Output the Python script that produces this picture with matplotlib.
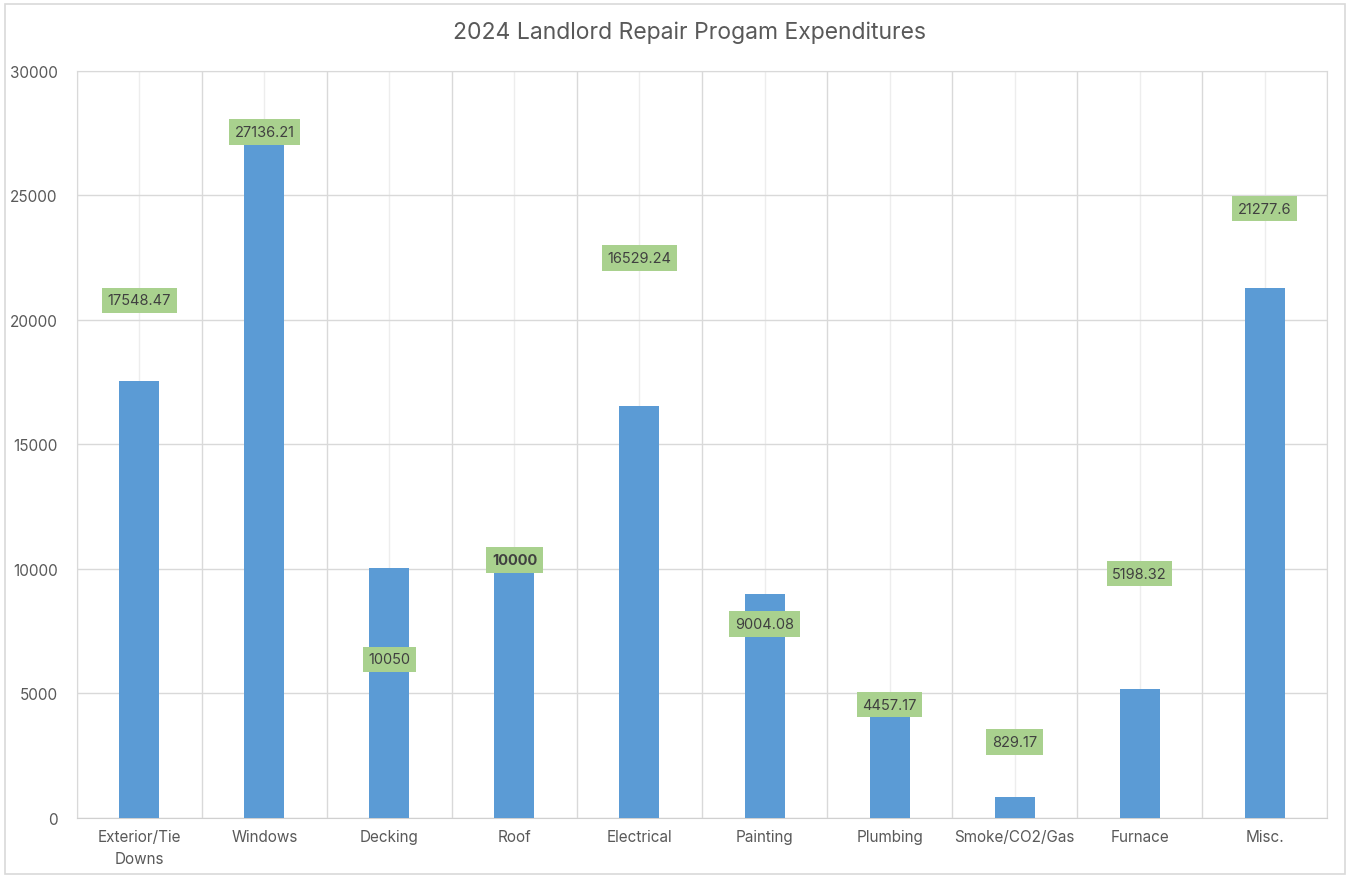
import matplotlib.pyplot as plt
import numpy as np

# Categorias e valores gastos em 2024
categorias = ["Exterior/Tie\nDowns", "Windows", "Decking", "Roof", "Electrical",
              "Painting", "Plumbing", "Smoke/CO2/Gas", "Furnace", "Misc."]
valores = [17548.47, 27136.21, 10050, 10000, 16529.24,
           9004.08, 4457.17, 829.17, 5198.32, 21277.6]
rotulos = ["17548.47", "27136.21", "10050", "10000", "16529.24",
           "9004.08", "4457.17", "829.17", "5198.32", "21277.6"]

# altura (em unidades do eixo y) onde cada rótulo foi arrastado
rotulo_y = [20800, 27550, 6380, 10360, 22490, 7790, 4540, 3050, 9800, 24460]

plt.rcParams["font.family"] = ["Inter", "DejaVu Sans"]
cinza = "#595959"

fig = plt.figure(figsize=(13.5, 8.79), dpi=100)
ax = fig.add_axes([0.057, 0.0683, 0.926, 0.8498])

x = np.arange(len(categorias))
ax.bar(x, valores, width=0.32, color="#5B9BD5", zorder=3)

for i, (txt, yy) in enumerate(zip(rotulos, rotulo_y)):
    peso = "bold" if txt == "10000" else "normal"
    ax.text(i, yy, txt, ha="center", va="center", fontsize=10.5, color="#404040",
            fontweight=peso, zorder=5,
            bbox=dict(boxstyle="square,pad=0.38", fc="#A9D18E", ec="none"))

ax.set_xlim(-0.5, 9.5)
ax.set_ylim(0, 30000)
ax.set_yticks(np.arange(0, 30001, 5000))
ax.set_xticks(x)
ax.set_xticklabels(categorias, fontsize=11, color=cinza, linespacing=1.6)
ax.set_xticks(np.arange(-0.5, 10, 1), minor=True)
ax.tick_params(axis="both", length=0, pad=8)
ax.tick_params(axis="y", labelsize=11, labelcolor=cinza, pad=14)
ax.tick_params(axis="x", which="minor", length=0)

ax.grid(axis="y", color="#D9D9D9", linewidth=1, zorder=0)
ax.grid(axis="x", which="major", color="#EDEDED", linewidth=1, zorder=0)
ax.grid(axis="x", which="minor", color="#D9D9D9", linewidth=1, zorder=0)

for lado in ["top", "right", "left"]:
    ax.spines[lado].set_color("#D9D9D9")
ax.spines["bottom"].set_color("#D0D0D0")

fig.text(0.511, 0.963, "2024 Landlord Repair Progam Expenditures",
         ha="center", va="center", fontsize=16.5, color=cinza)

# moldura do gráfico
fig.patches.append(plt.Rectangle((0.004, 0.004), 0.992, 0.99, transform=fig.transFigure,
                                 fill=False, ec="#D9D9D9", lw=1.2))

plt.savefig("out.png", dpi=100)
